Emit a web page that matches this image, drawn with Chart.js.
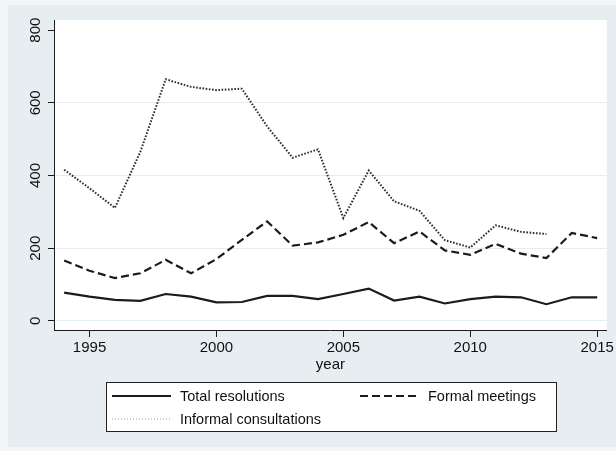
<!DOCTYPE html>
<html>
<head>
<meta charset="utf-8">
<script src="https://cdn.jsdelivr.net/npm/chart.js@4/dist/chart.umd.min.js"></script>
<style>
  html, body { margin: 0; padding: 0; background: #f2f6f7; }
  #wrap { width: 616px; height: 451px; }
</style>
</head>
<body>
<div id="wrap"><canvas id="chart" width="616" height="451"></canvas></div>
<script>
// data
const years = [1994, 1995, 1996, 1997, 1998, 1999, 2000, 2001, 2002, 2003, 2004,
               2005, 2006, 2007, 2008, 2009, 2010, 2011, 2012, 2013, 2014, 2015];
const totalResolutions = [78, 67, 58, 55, 74, 67, 51, 52, 69, 69, 60,
                          74, 89, 56, 67, 48, 60, 67, 65, 46, 65, 65];
const formalMeetings = [166, 138, 118, 131, 168, 131, 170, 223, 274, 207, 216,
                        237, 272, 214, 246, 194, 182, 212, 185, 173, 242, 228];
const informalConsultations = [416, 365, 311, 465, 665, 644, 635, 639, 535, 449, 472,
                               283, 414, 329, 303, 222, 202, 263, 245, 239, null, null];
const xTicks = [1995, 2000, 2005, 2010, 2015];
const yTicks = [0, 200, 400, 600, 800];

const FONT = '"Liberation Sans", Arial, Helvetica, sans-serif';
const INK = '#1b1b1b';

const toPoints = (vals) => years.map((yr, i) => ({ x: yr, y: vals[i] }));

// backdrop: light bluish graph region, white plot region
const backdrop = {
    id: 'backdrop',
    beforeDraw(chart) {
        const { ctx, chartArea: a } = chart;
        ctx.save();
        ctx.fillStyle = '#f2f6f7';
        ctx.fillRect(0, 0, chart.width, chart.height);
        ctx.fillStyle = '#e7eef1';
        ctx.fillRect(8, 5, chart.width - 8, chart.height - 9);
        ctx.fillStyle = '#ffffff';
        ctx.fillRect(a.left, a.top, a.right - a.left, a.bottom - a.top);
        ctx.restore();
    }
};

// Stata style boxed legend, two columns
const boxLegend = {
    id: 'boxLegend',
    afterDraw(chart) {
        const { ctx } = chart;
        const ds = chart.data.datasets;
        const box = { x: 106, y: 382, w: 450, h: 49 };
        const slots = [
            { x: 112, y: 396, ds: ds[0], color: INK, width: 2.2, dash: [] },
            { x: 360, y: 396, ds: ds[1], color: INK, width: 2.2, dash: [8, 4] },
            { x: 112, y: 419, ds: ds[2], color: '#a0a0a0', width: 1, dash: [1, 2] }
        ];
        ctx.save();
        ctx.fillStyle = '#ffffff';
        ctx.fillRect(box.x, box.y, box.w, box.h);
        ctx.strokeStyle = '#222';
        ctx.lineWidth = 1;
        ctx.strokeRect(box.x + 0.5, box.y + 0.5, box.w, box.h);
        ctx.font = '14.5px ' + FONT;
        ctx.textBaseline = 'middle';
        ctx.fillStyle = '#111';
        slots.forEach((s) => {
            ctx.beginPath();
            ctx.setLineDash(s.dash);
            ctx.strokeStyle = s.color;
            ctx.lineWidth = s.width;
            ctx.moveTo(s.x, s.y);
            ctx.lineTo(s.x + 59, s.y);
            ctx.stroke();
            ctx.setLineDash([]);
            ctx.fillText(s.ds.label, s.x + 68, s.y + 1);
        });
        ctx.restore();
    }
};

new Chart(document.getElementById('chart'), {
    type: 'line',
    data: {
        datasets: [
            {
                label: 'Total resolutions',
                data: toPoints(totalResolutions),
                borderColor: INK,
                borderWidth: 2.2,
            },
            {
                label: 'Formal meetings',
                data: toPoints(formalMeetings),
                borderColor: INK,
                borderWidth: 2.2,
                borderDash: [8, 4],
            },
            {
                label: 'Informal consultations',
                data: toPoints(informalConsultations),
                borderColor: '#2e2e2e',
                borderWidth: 2,
                borderDash: [1.6, 1.6],
            },
        ],
    },
    options: {
        responsive: false,
        animation: false,
        spanGaps: false,
        elements: {
            point: { radius: 0, hoverRadius: 0 },
            line: { tension: 0, fill: false, borderCapStyle: 'butt' },
        },
        layout: { padding: { left: 0, right: 8, top: 20, bottom: 77 } },
        plugins: {
            legend: { display: false },
            tooltip: { enabled: false },
        },
        scales: {
            x: {
                type: 'linear',
                min: 1993.6,
                max: 2015.38,
                afterBuildTicks: (s) => { s.ticks = xTicks.map((v) => ({ value: v })); },
                afterFit: (s) => { s.height = 44; },
                grid: {
                    drawOnChartArea: false,
                    tickLength: 7,
                    tickColor: INK,
                },
                border: { color: INK, width: 1 },
                ticks: {
                    autoSkip: false,
                    maxRotation: 0,
                    padding: 2,
                    color: '#111',
                    font: { family: FONT, size: 15 },
                    callback: (v) => String(v),
                },
                title: {
                    display: true,
                    text: 'year',
                    color: '#111',
                    padding: 0,
                    font: { family: FONT, size: 15 },
                },
            },
            y: {
                type: 'linear',
                min: -25,
                max: 828,
                afterBuildTicks: (s) => { s.ticks = yTicks.map((v) => ({ value: v })); },
                afterFit: (s) => { s.width = 54; },
                grid: {
                    color: (c) => (c.tick && c.tick.value === 800 ? 'rgba(0,0,0,0)' : '#e3ecef'),
                    lineWidth: 1,
                    tickLength: 6,
                    tickColor: INK,
                },
                border: { color: INK, width: 1 },
                ticks: {
                    autoSkip: false,
                    minRotation: 90,
                    maxRotation: 90,
                    crossAlign: 'center',
                    padding: 0,
                    color: '#111',
                    font: { family: FONT, size: 15 },
                },
            },
        },
    },
    plugins: [backdrop, boxLegend],
});
</script>
</body>
</html>
